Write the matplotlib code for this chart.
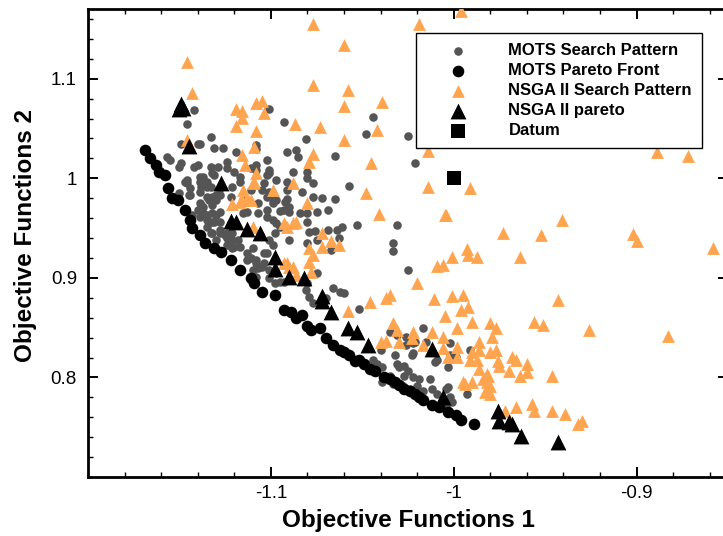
import numpy as np
import matplotlib
matplotlib.use("Agg")
import matplotlib.pyplot as plt
from matplotlib.ticker import FixedLocator, MultipleLocator

# MOTS search pattern (grey dots)
mots_search_x = [
    -1.142, -1.146, -1.101, -1.093, -1.044, -1.048, -1.025, -1.021, -1.133, -1.131,
    -1.126, -1.139, -1.119, -1.108, -1.108, -1.091, -1.081, -1.086, -1.085, -1.065,
    -1.133, -1.131, -1.124, -1.124, -1.120, -1.117, -1.111, -1.108, -1.101, -1.102,
    -1.088, -1.080, -1.080, -1.077, -1.091, -1.057, -1.072, -1.065, -1.083, -1.091,
    -1.095, -1.090, -1.084, -1.075, -1.069, -1.080, -1.031, -1.053, -1.061, -1.064,
    -1.069, -1.076, -1.079, -1.090, -1.098, -1.033, -1.033, -1.101, -1.105, -1.111,
    -1.117, -1.121, -1.128, -1.135, -1.137, -1.139, -1.130, -1.134, -1.128, -1.132,
    -1.137, -1.135, -1.128, -1.122, -1.132, -1.128, -1.124, -1.122, -1.118, -1.121,
    -1.117, -1.113, -1.110, -1.106, -1.101, -1.107, -1.107, -1.115, -1.099, -1.113,
    -1.115,
    -1.149, -1.140, -1.157, -1.155, -1.149, -1.140, -1.129, -1.132, -1.139, -1.146,
    -1.146, -1.144, -1.135, -1.133, -1.139, -1.150, -1.145, -1.139, -1.135, -1.130,
    -1.132, -1.137, -1.140, -1.143, -1.139, -1.135, -1.130, -1.132, -1.135, -1.133,
    -1.128, -1.130, -1.124, -1.121, -1.120, -1.111, -1.108, -1.105, -1.102, -1.099,
    -1.101, -1.097, -1.095, -1.098, -1.108, -1.110, -1.102, -1.099, -1.099, -1.095,
    -1.092, -1.090, -1.091, -1.104, -1.101, -1.097, -1.102, -1.108,
    -1.150, -1.142, -1.147, -1.144, -1.138, -1.132, -1.128, -1.122, -1.138, -1.131,
    -1.125, -1.124, -1.121, -1.113, -1.108, -1.104, -1.104, -1.102, -1.097, -1.093,
    -1.097, -1.102,
    -1.077, -1.080, -1.063, -1.067, -1.075, -1.080, -1.025, -1.075, -1.066, -1.062,
    -1.060, -1.052,
    -1.107, -1.101, -1.093, -1.080, -1.081, -1.079, -1.077, -1.070, -1.035, -1.031,
    -1.026, -1.022, -1.026, -1.017, -1.015, -1.022, -1.032, -1.031, -1.027, -1.025,
    -1.022, -1.019, -1.013, -1.012, -1.009, -1.004, -1.002, -1.001, -1.004, -0.993,
    -1.002, -1.002, -1.009, -0.991, -1.039, -1.044, -1.042, -1.035, -1.039, -1.033,
    -1.028, -1.024, -1.020, -1.017,
    -1.021, -1.023, -1.010, -1.003, -1.040, -1.030, -1.027, -1.003, -0.999,
]
mots_search_y = [
    1.069, 1.055, 1.070, 1.057, 1.062, 1.044, 1.042, 1.015, 1.041, 1.030,
    1.030, 1.034, 1.026, 1.033, 1.029, 1.026, 1.039, 1.028, 1.021, 1.022,
    1.011, 1.003, 1.016, 1.010, 1.006, 1.001, 1.010, 1.013, 1.008, 1.003,
    1.006, 1.006, 1.000, 0.995, 0.996, 0.992, 0.980, 0.979, 0.986, 0.979,
    0.967, 0.966, 0.965, 0.966, 0.968, 0.956, 0.953, 0.953, 0.951, 0.948,
    0.948, 0.947, 0.946, 0.938, 0.945, 0.935, 0.927, 0.986, 0.988, 0.988,
    0.996, 0.991, 0.990, 0.991, 1.001, 0.996, 0.978, 0.978, 0.966, 0.965,
    0.965, 0.958, 0.956, 0.955, 0.945, 0.945, 0.945, 0.938, 0.938, 0.930,
    0.931, 0.925, 0.930, 0.943, 0.938, 0.965, 0.975, 0.978, 0.975, 0.966,
    0.965,
    1.034, 1.034, 1.021, 1.018, 1.015, 1.013, 1.011, 1.005, 1.001, 0.998,
    0.995, 0.990, 0.996, 0.991, 0.986, 0.985, 0.983, 0.975, 0.981, 0.983,
    0.973, 0.971, 0.968, 0.963, 0.961, 0.963, 0.963, 0.956, 0.951, 0.945,
    0.948, 0.938, 0.940, 0.945, 0.931, 0.920, 0.915, 0.911, 0.925, 0.933,
    0.908, 0.905, 0.896, 0.895, 0.901, 0.908, 0.968, 0.978, 0.958, 0.951,
    0.976, 0.971, 0.988, 0.995, 1.005, 0.998, 1.018, 1.008,
    1.011, 1.011, 0.996, 0.983, 0.991, 0.981, 0.983, 0.981, 0.973, 0.956,
    0.943, 0.933, 0.938, 0.918, 0.918, 0.915, 0.925, 0.961, 0.955, 0.968,
    0.978, 0.981,
    0.981, 0.965, 0.940, 0.928, 0.938, 0.935, 0.908, 0.905, 0.890, 0.886,
    0.885, 0.869,
    0.910, 0.900, 0.896, 0.895, 0.888, 0.881, 0.875, 0.880, 0.846, 0.843,
    0.841, 0.835, 0.833, 0.850, 0.836, 0.825, 0.823, 0.813, 0.811, 0.806,
    0.800, 0.798, 0.798, 0.788, 0.783, 0.788, 0.780, 0.775, 0.771, 0.783,
    0.823, 0.835, 0.818, 0.828, 0.810, 0.818, 0.813, 0.801, 0.795, 0.793,
    0.791, 0.788, 0.791, 0.786,
    0.836, 0.823, 0.815, 0.810, 0.828, 0.810, 0.801, 0.790, 0.821,
]

# MOTS Pareto front (black circles)
mots_pareto_x = [
    -1.169, -1.166, -1.163, -1.161, -1.158, -1.156, -1.154, -1.151, -1.147, -1.144,
    -1.143, -1.139, -1.136, -1.131, -1.127, -1.122, -1.117, -1.111, -1.109, -1.105,
    -1.098, -1.093, -1.089, -1.083, -1.080, -1.073, -1.070, -1.066, -1.062, -1.057,
    -1.052, -1.049, -1.043, -1.038, -1.032, -1.027, -1.021, -1.017, -1.012, -1.003,
    -0.996, -0.989, -1.054, -1.046, -1.035, -1.030, -1.024, -1.019, -1.008, -0.999,
    -1.060, -1.078, -1.086,
]
mots_pareto_y = [
    1.028, 1.020, 1.013, 1.006, 1.003, 0.990, 0.980, 0.978, 0.968, 0.958,
    0.950, 0.943, 0.935, 0.930, 0.926, 0.918, 0.908, 0.900, 0.895, 0.886,
    0.883, 0.868, 0.866, 0.863, 0.852, 0.850, 0.840, 0.833, 0.828, 0.823,
    0.818, 0.813, 0.806, 0.800, 0.795, 0.788, 0.783, 0.777, 0.772, 0.765,
    0.757, 0.753, 0.816, 0.808, 0.798, 0.792, 0.786, 0.780, 0.770, 0.762,
    0.826, 0.848, 0.860,
]

# NSGA II search pattern (orange triangles)
nsga_search_x = [
    -1.077, -1.060, -1.019, -0.996, -1.146, -1.143, -1.077, -1.058, -1.060, -1.039,
    -1.119, -1.116, -1.108, -1.105, -1.104, -1.116, -1.119, -1.108, -1.087, -1.073,
    -1.042, -1.060, -1.014, -1.045, -1.077, -1.079, -1.116, -1.114, -1.108, -1.099,
    -1.088, -1.110, -1.115, -1.116, -1.111, -1.121, -1.080, -1.048, -1.014, -1.041,
    -1.005, -1.093, -1.086, -1.091, -1.072, -1.067, -1.063, -1.072, -1.079, -1.077,
    -1.079, -1.090, -1.078,
    -0.889, -0.872, -0.991, -1.004, -0.941, -0.973, -0.952, -0.902, -0.900, -0.858,
    -0.993, -0.992, -0.987, -1.001, -0.964, -1.006, -1.009,
    -1.020, -1.035, -1.037, -1.046, -1.011, -1.001, -1.058, -1.005, -1.093, -1.086,
    -0.995, -0.992, -0.996, -1.033, -1.031, -1.022, -1.012, -0.998, -0.990, -0.980,
    -1.040, -1.037, -1.030, -1.023, -1.017, -1.006, -1.006, -0.998, -0.998, -1.003,
    -0.991, -0.986, -0.986, -0.979, -0.977, -0.986, -0.982, -0.982, -0.980, -0.990,
    -0.994, -0.977, -0.990, -0.987, -0.980, -0.976, -0.975, -0.968, -0.966, -0.960,
    -0.960, -0.964, -0.970, -0.981, -0.984, -0.980, -0.995,
    -0.943, -0.956, -0.951, -0.926, -0.883, -0.972, -0.966, -0.957, -0.956, -0.946,
    -0.939, -0.930, -0.932, -0.946, -0.983,
    -1.146, -1.109, -1.109, -1.113, -1.117, -1.088, -1.110, -1.088, -1.091,
]
nsga_search_y = [
    1.155, 1.134, 1.155, 1.168, 1.117, 1.086, 1.094, 1.089, 1.073, 1.077,
    1.070, 1.068, 1.076, 1.078, 1.066, 1.061, 1.052, 1.047, 1.055, 1.051,
    1.048, 1.038, 1.027, 1.015, 1.024, 1.016, 1.023, 1.013, 1.005, 0.988,
    0.995, 0.995, 0.988, 0.978, 0.978, 0.974, 0.975, 0.985, 0.991, 0.964,
    0.963, 0.955, 0.956, 0.951, 0.945, 0.937, 0.933, 0.931, 0.930, 0.923,
    0.916, 0.911, 0.906,
    1.026, 1.022, 0.990, 0.963, 0.958, 0.945, 0.943, 0.944, 0.937, 0.930,
    0.929, 0.923, 0.921, 0.921, 0.921, 0.913, 0.912,
    0.895, 0.883, 0.880, 0.876, 0.879, 0.882, 0.867, 0.862, 0.915, 0.903,
    0.883, 0.871, 0.868, 0.855, 0.848, 0.846, 0.846, 0.850, 0.856, 0.855,
    0.836, 0.837, 0.836, 0.840, 0.833, 0.841, 0.830, 0.831, 0.821, 0.821,
    0.818, 0.836, 0.828, 0.841, 0.828, 0.808, 0.803, 0.795, 0.783, 0.795,
    0.793, 0.850, 0.826, 0.818, 0.826, 0.816, 0.811, 0.821, 0.818, 0.813,
    0.805, 0.801, 0.806, 0.801, 0.798, 0.791, 0.795,
    0.878, 0.856, 0.853, 0.848, 0.842, 0.766, 0.770, 0.773, 0.766, 0.766,
    0.763, 0.756, 0.753, 0.801, 0.785,
    1.038, 1.031, 0.996, 0.980, 0.976, 0.955, 0.951, 0.911, 0.915,
]

# NSGA II pareto (black triangles)
nsga_pareto_x = [
    -1.149, -1.148, -1.150, -1.145, -1.127, -1.122, -1.119, -1.113, -1.106, -1.098,
    -1.098, -1.090, -1.082, -1.072, -1.072, -1.067, -1.058, -1.053, -1.047, -1.012,
    -1.006, -0.976, -0.975, -0.970, -0.968, -0.963, -0.943,
]
nsga_pareto_y = [
    1.075, 1.071, 1.070, 1.032, 0.995, 0.957, 0.956, 0.949, 0.945, 0.921,
    0.909, 0.901, 0.900, 0.882, 0.877, 0.866, 0.850, 0.846, 0.833, 0.829,
    0.780, 0.766, 0.756, 0.755, 0.753, 0.741, 0.735,
]

datum_x = [-1.0]
datum_y = [1.0]

x_ticks = [-1.1, -1.0, -0.9]
x_tick_labels = ["-1.1", "-1", "-0.9"]
y_ticks = [0.8, 0.9, 1.0, 1.1]
y_tick_labels = ["0.8", "0.9", "1", "1.1"]

GREY = "#555555"
ORANGE = "#ffa54f"

plt.rcParams["font.family"] = ["Liberation Sans", "DejaVu Sans"]

fig = plt.figure(figsize=(7.23, 5.36), dpi=100)
ax = fig.add_axes([88 / 723, 59 / 536, 640 / 723, 468 / 536])

ax.scatter(mots_search_x, mots_search_y, s=38, marker="o", color=GREY,
           linewidths=0, label="MOTS Search Pattern", zorder=2)
ax.scatter(mots_pareto_x, mots_pareto_y, s=70, marker="o", color="black",
           linewidths=0, label="MOTS Pareto Front", zorder=3)
ax.scatter(nsga_search_x, nsga_search_y, s=85, marker="^", color=ORANGE,
           linewidths=0, label="NSGA II Search Pattern", zorder=4)
ax.scatter(nsga_pareto_x, nsga_pareto_y, s=130, marker="^", color="black",
           linewidths=0, label="NSGA II pareto", zorder=5)
ax.scatter(datum_x, datum_y, s=88, marker="s", color="black",
           linewidths=0, label="Datum", zorder=6)

ax.set_xlim(-1.2, -0.85)
ax.set_ylim(0.70, 1.17)
ax.xaxis.set_major_locator(FixedLocator(x_ticks))
ax.set_xticklabels(x_tick_labels)
ax.xaxis.set_minor_locator(MultipleLocator(0.02))
ax.yaxis.set_major_locator(FixedLocator(y_ticks))
ax.set_yticklabels(y_tick_labels)
ax.yaxis.set_minor_locator(MultipleLocator(0.02))

ax.tick_params(which="both", direction="in", top=True, right=True, labelsize=13.5)
ax.tick_params(which="major", length=7, width=1.4)
ax.tick_params(which="minor", length=3.6, width=1.0)
ax.tick_params(axis="x", which="major", pad=6)
ax.tick_params(axis="y", which="major", pad=8)
for sp in ax.spines.values():
    sp.set_linewidth(2)

ax.set_xlabel("Objective Functions 1", fontsize=17.5, fontweight="bold", labelpad=5)
ax.set_ylabel("Objective Functions 2", fontsize=17.5, fontweight="bold")
ax.yaxis.set_label_coords(-0.080, 0.517)

leg = ax.legend(loc="upper left", bbox_to_anchor=(416 / 723, 1 - 33 / 536),
                bbox_transform=fig.transFigure, borderaxespad=0, scatterpoints=1,
                fancybox=False, framealpha=1, edgecolor="black",
                prop={"weight": "bold", "size": 12}, borderpad=0.6,
                handlelength=3.9, handletextpad=1.05, labelspacing=0.3)
leg.get_frame().set_linewidth(1.0)
leg.set_zorder(10)

fig.savefig("out.png", dpi=100)
